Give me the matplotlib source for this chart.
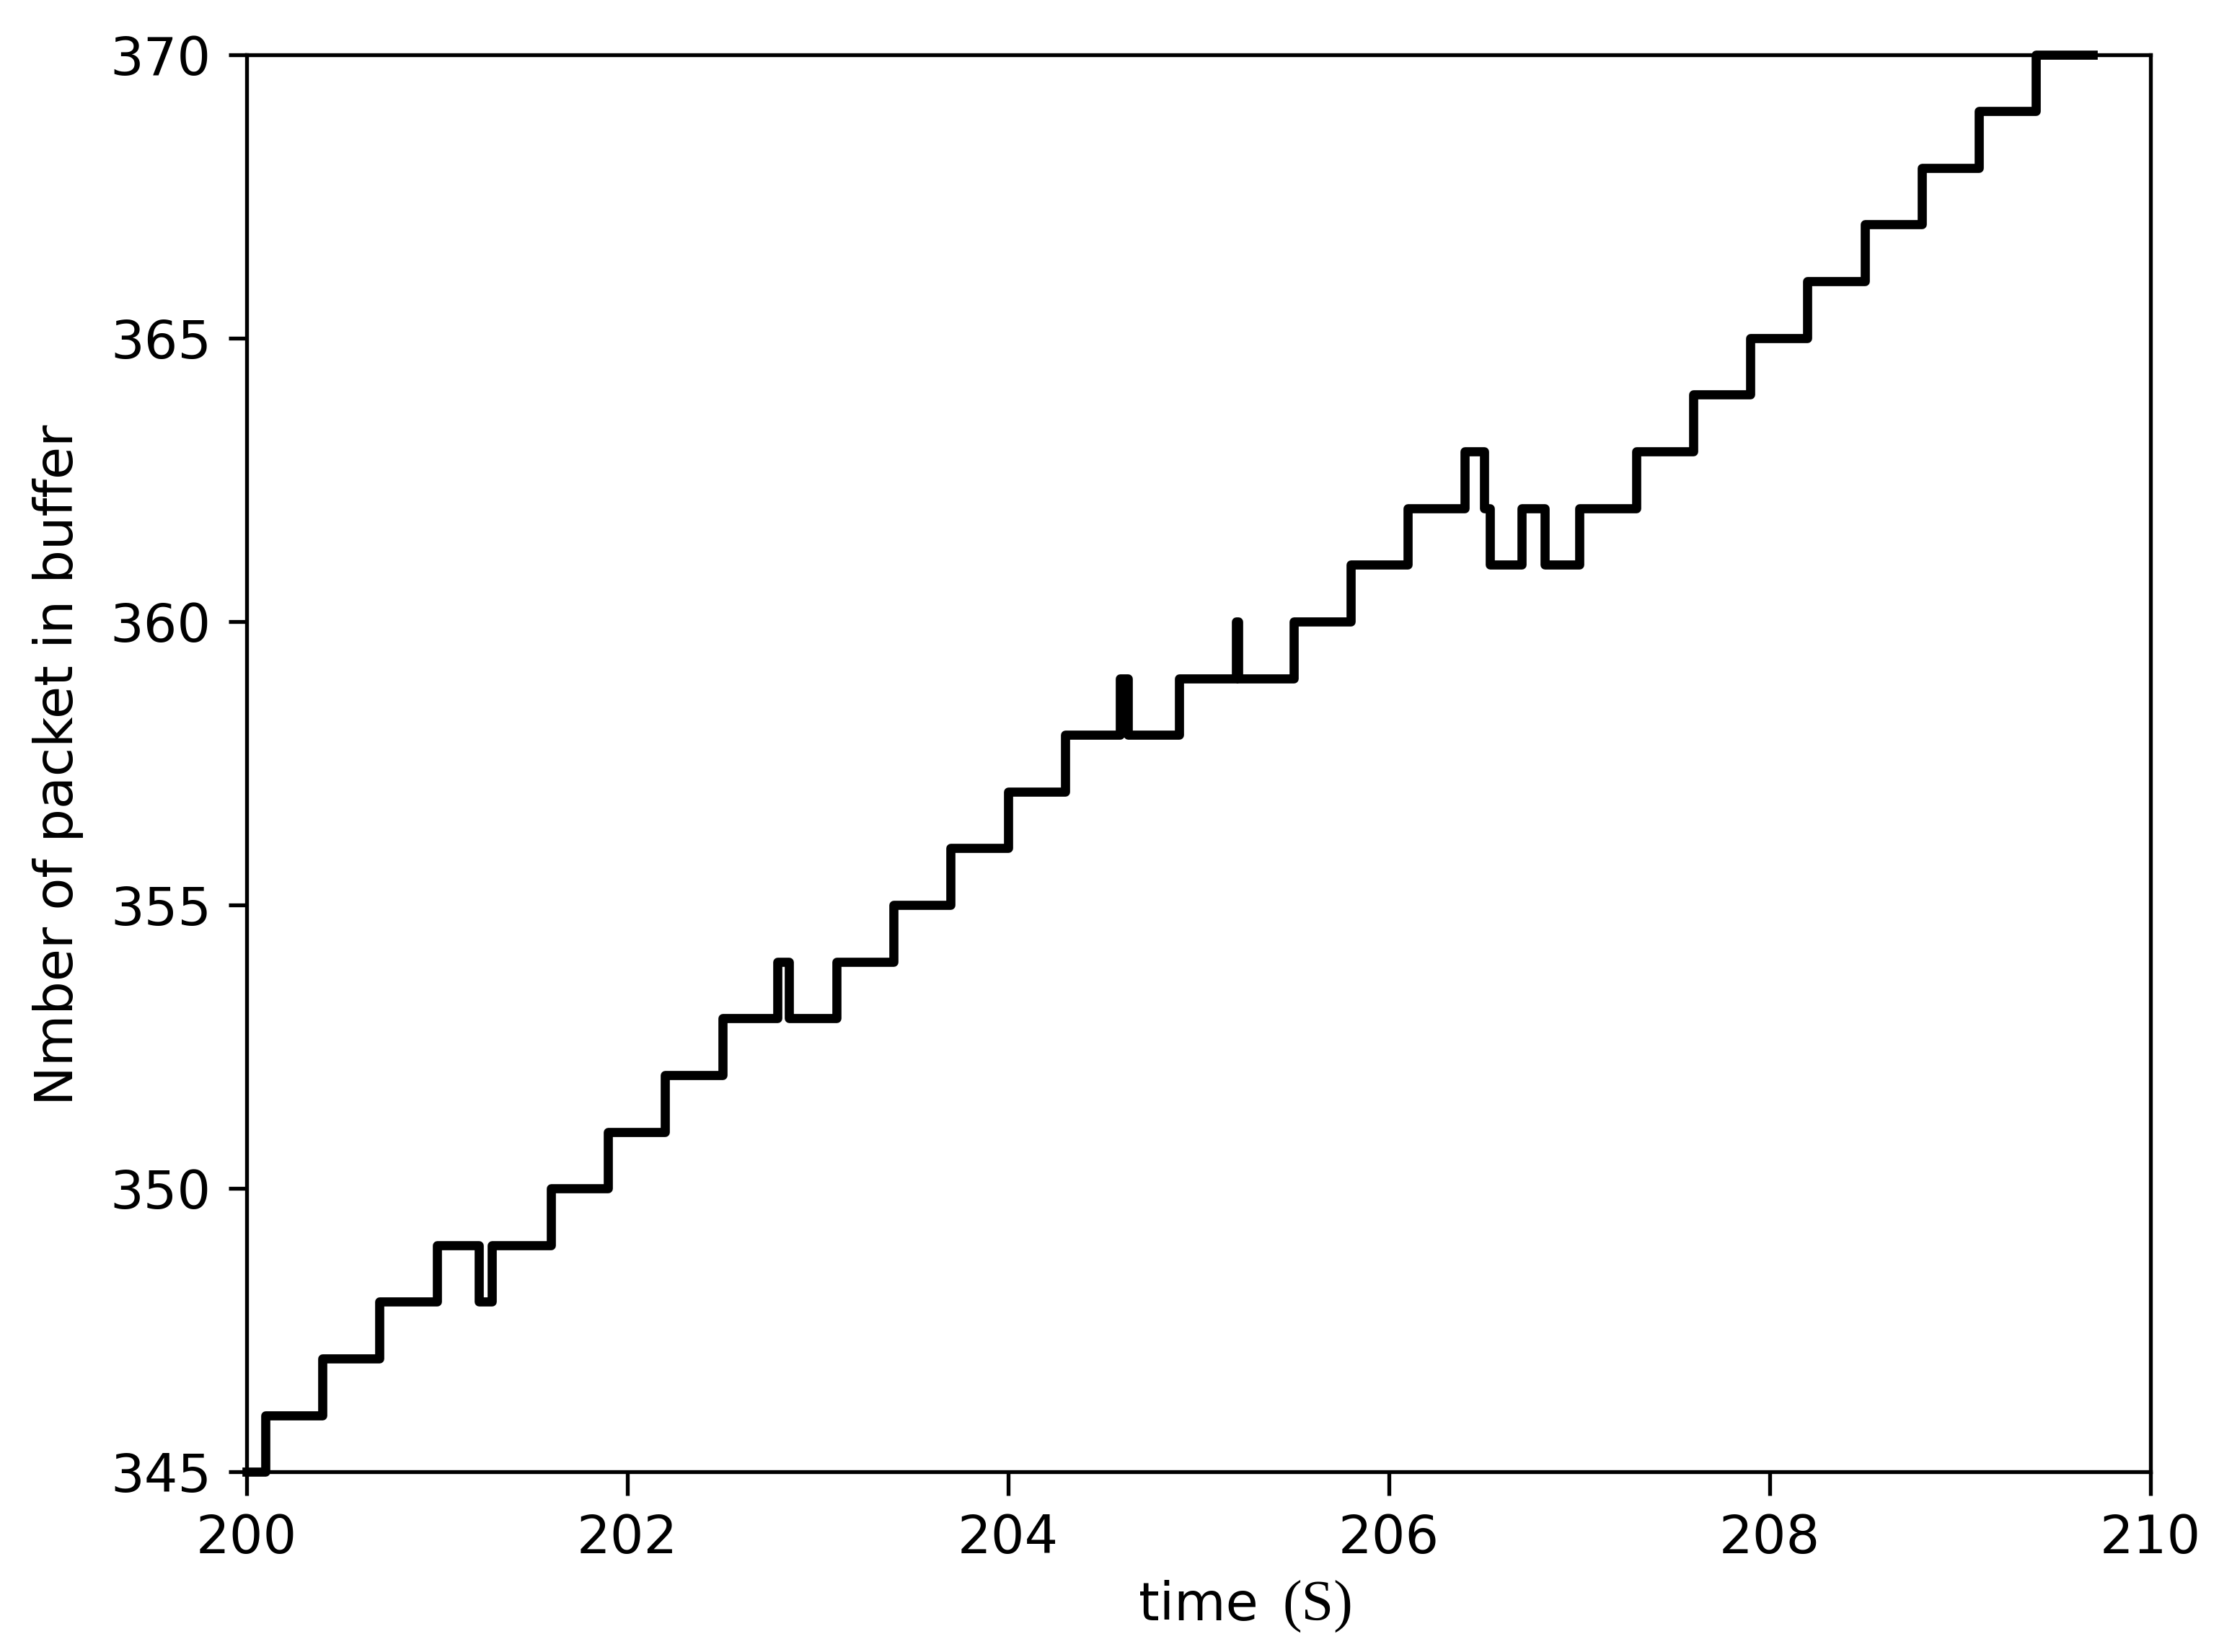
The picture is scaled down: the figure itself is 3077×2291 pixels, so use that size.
import matplotlib.pyplot as plt

# time (s) at which buffer occupancy changes, and the new occupancy
times = [200.00, 200.10, 200.40, 200.70, 201.00, 201.22, 201.29, 201.60, 201.90,
         202.20, 202.50, 202.79, 202.85, 203.10, 203.40, 203.70, 204.00, 204.30,
         204.59, 204.63, 204.90, 205.20, 205.21, 205.50, 205.80, 206.10, 206.40,
         206.50, 206.53, 206.70, 206.82, 207.00, 207.30, 207.60, 207.90, 208.20,
         208.50, 208.80, 209.10, 209.40, 209.70]
packets = [345, 346, 347, 348, 349, 348, 349, 350, 351,
           352, 353, 354, 353, 354, 355, 356, 357, 358,
           359, 358, 359, 360, 359, 360, 361, 362, 363,
           362, 361, 362, 361, 362, 363, 364, 365, 366,
           367, 368, 369, 370, 370]

fig = plt.figure(figsize=(3077/480, 2291/480), dpi=480)
ax = fig.add_axes([0.111, 0.109, 0.858, 0.858])

ax.step(times, packets, where='post', color='black', linewidth=1.9, clip_on=False)

ax.set_xlim(200, 210)
ax.set_ylim(345, 370)
ax.set_xticks([200, 202, 204, 206, 208, 210])
ax.set_yticks([345, 350, 355, 360, 365, 370])
ax.tick_params(labelsize=11)
ax.tick_params(axis='x', length=5)
ax.tick_params(axis='y', length=3.8)

# axis labels; the unit is set in a serif face like the original
fig.text(0.513, 0.019, 'time', fontsize=11, ha='left', va='baseline')
fig.text(0.578, 0.019, '(S)', fontsize=12, family='Liberation Serif',
         ha='left', va='baseline')
fig.text(0.026, 0.537, 'Nmber of packet in buffer', fontsize=11,
         rotation=90, ha='center', va='center')

fig.savefig('out.png', dpi=480)
